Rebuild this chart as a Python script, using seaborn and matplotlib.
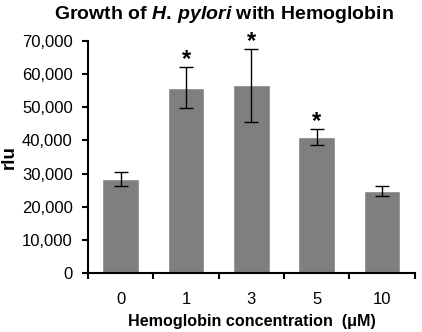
import numpy as np
import matplotlib
matplotlib.use("Agg")
import matplotlib.pyplot as plt
import seaborn as sns
from matplotlib.ticker import FuncFormatter, FixedLocator

# data
conc = ["0", "1", "3", "5", "10"]
rlu_mean = [28500, 56000, 56700, 41000, 24700]
rlu_err = [2100, 6100, 11000, 2400, 1400]
signif = ["", "*", "*", "*", ""]

sns.set_style("white")
plt.rcParams["font.family"] = ["Liberation Sans", "DejaVu Sans"]
plt.rcParams["mathtext.fontset"] = "custom"
plt.rcParams["mathtext.it"] = "Liberation Sans:italic:bold"
plt.rcParams["mathtext.rm"] = "Liberation Sans:bold"
plt.rcParams["text.color"] = "black"
plt.rcParams["axes.labelcolor"] = "black"
plt.rcParams["xtick.color"] = "black"
plt.rcParams["ytick.color"] = "black"

fig = plt.figure(figsize=(4.22, 3.32), dpi=100)
ax = fig.add_axes([0.2085, 0.178, 0.7745, 0.698])

sns.barplot(x=conc, y=rlu_mean, color="#7f7f7f", saturation=1, width=0.56,
            errorbar=None, ax=ax)
xpos = np.arange(len(conc))
ax.errorbar(xpos, rlu_mean, yerr=rlu_err, fmt="none", ecolor="black",
            elinewidth=1, capsize=5, capthick=1)
for x, m, e, s in zip(xpos, rlu_mean, rlu_err, signif):
    if s:
        ax.annotate(s, (x, m + e), xytext=(0, -3), textcoords="offset points",
                    ha="center", va="bottom", fontsize=17, fontweight="bold",
                    annotation_clip=False)

ax.set_xlim(-0.5, len(conc) - 0.5)
ax.set_ylim(0, 70000)
ax.set_yticks(np.arange(0, 70001, 10000))
ax.yaxis.set_major_formatter(FuncFormatter(lambda v, p: f"{int(v):,}"))
ax.tick_params(axis="y", direction="out", length=4, width=1.5, labelsize=12,
               left=True, pad=7)
ax.tick_params(axis="x", which="major", length=0, labelsize=12, pad=14)
ax.xaxis.set_minor_locator(FixedLocator(np.arange(-0.5, len(conc), 1.0)))
ax.tick_params(axis="x", which="minor", direction="out", length=4, width=1.5,
               bottom=True)

for side in ["top", "right"]:
    ax.spines[side].set_visible(False)
for side in ["left", "bottom"]:
    ax.spines[side].set_color("black")
    ax.spines[side].set_linewidth(1.5)

ax.set_xlabel("Hemoglobin concentration  (μM)", fontsize=11.6,
              fontweight="bold", labelpad=5)
ax.set_ylabel("rlu", fontsize=13.5, fontweight="bold")
ax.yaxis.set_label_coords(-0.215, 0.5)
fig.text(0.531, 0.955, r"Growth of $\it{H.\,pylori}$ with Hemoglobin",
         fontsize=14, fontweight="bold", ha="center", va="center")

fig.savefig("out.png", dpi=100)
